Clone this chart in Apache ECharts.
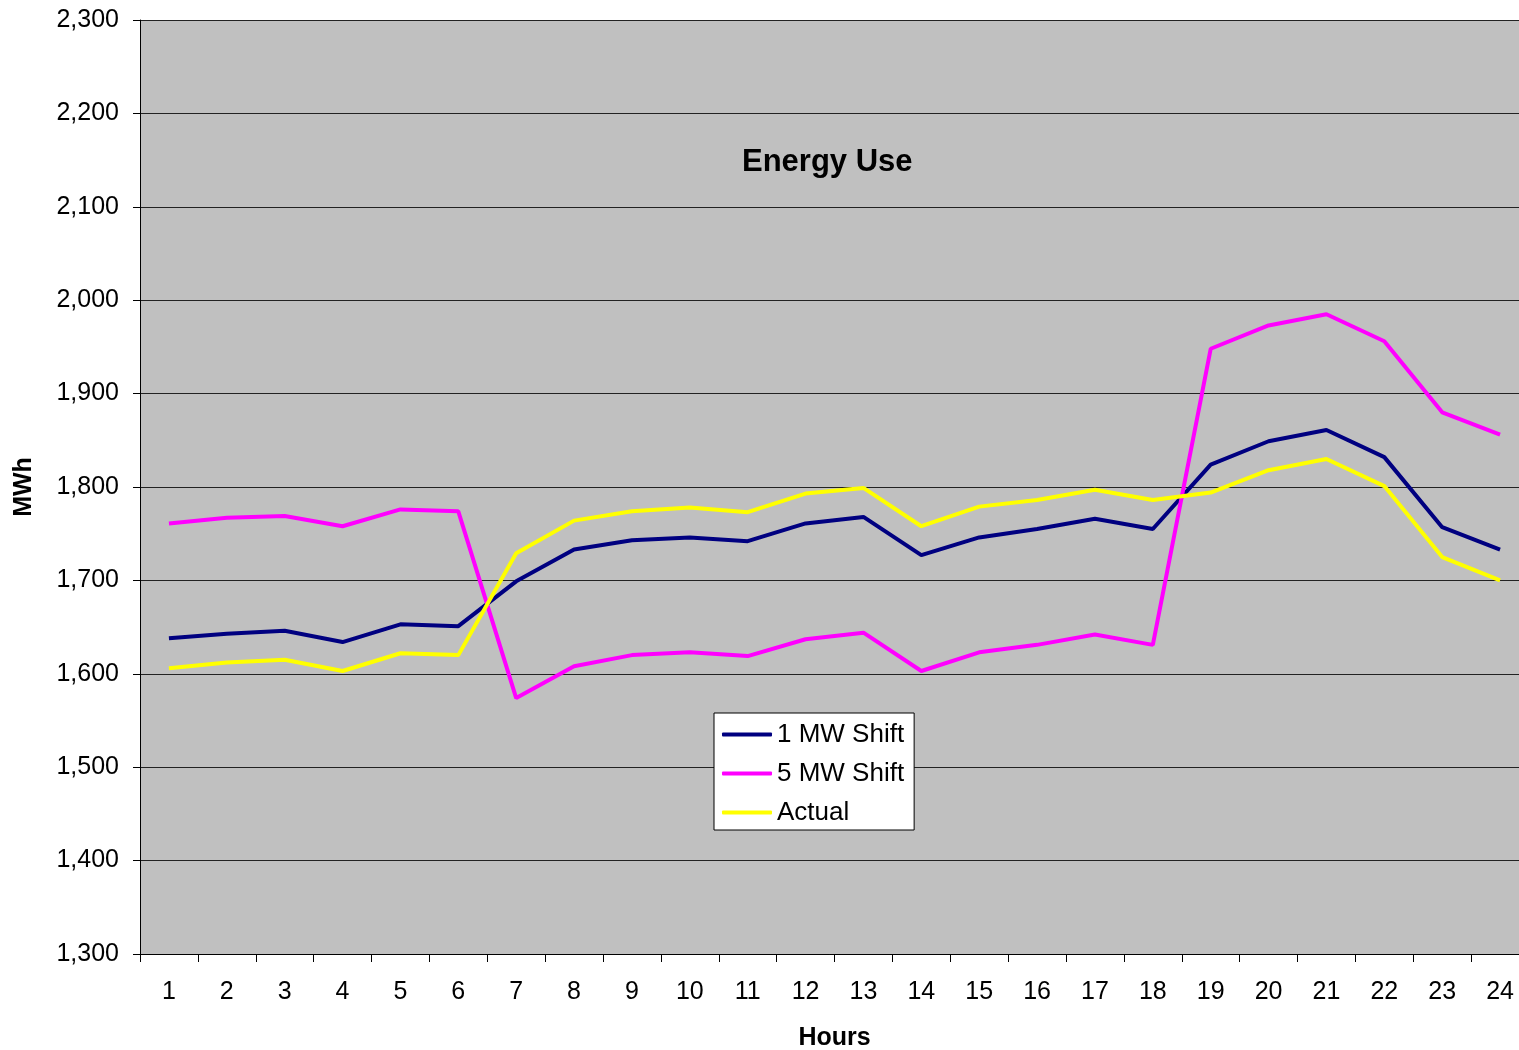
<!DOCTYPE html>
<html>
<head>
<meta charset="utf-8">
<script src="https://cdn.jsdelivr.net/npm/echarts@6/dist/echarts.min.js"></script>
<style>
html,body{margin:0;padding:0;background:#fff;overflow:hidden;}
#chart{width:1519px;height:1050px;}
</style>
</head>
<body>
<div id="chart"></div>
<script>
const hours = ['1','2','3','4','5','6','7','8','9','10','11','12','13','14','15','16','17','18','19','20','21','22','23','24'];
const shift1MW = [1638,1643,1646,1634,1653,1651,1699,1733,1743,1746,1742,1761,1768,1727,1746,1755,1766,1755,1824,1849,1861,1832,1757,1733];
const shift5MW = [1761,1767,1769,1758,1776,1774,1574,1608,1620,1623,1619,1637,1644,1603,1623,1631,1642,1631,1948,1973,1985,1956,1880,1856];
const actual = [1606,1612,1615,1603,1622,1620,1729,1764,1774,1778,1773,1793,1799,1758,1779,1786,1797,1786,1794,1818,1830,1801,1725,1700];

const chart = echarts.init(document.getElementById('chart'));
const font = 'Arial, "Liberation Sans", sans-serif';
chart.setOption({
  backgroundColor: '#ffffff',
  animation: false,
  textStyle: { fontFamily: font },
  title: {
    text: 'Energy Use',
    left: 737,
    top: 142,
    textStyle: { fontFamily: font, fontSize: 31, fontWeight: 'bold', color: '#000' }
  },
  legend: {
    orient: 'vertical',
    left: 714,
    top: 713,
    backgroundColor: '#ffffff',
    borderColor: '#000000',
    borderWidth: 1,
    borderRadius: 0,
    padding: [8, 10, 4, 8],
    icon: 'roundRect',
    itemWidth: 50,
    itemHeight: 4,
    itemGap: 12,
    textStyle: { fontFamily: font, fontSize: 26, color: '#000', lineHeight: 27 },
    data: ['1 MW Shift', '5 MW Shift', 'Actual']
  },
  grid: {
    left: 140,
    top: 20,
    width: 1389,
    height: 934,
    show: true,
    backgroundColor: '#c0c0c0',
    borderWidth: 0,
    outerBoundsMode: 'none',
    containLabel: false
  },
  xAxis: {
    type: 'category',
    data: hours,
    boundaryGap: true,
    name: 'Hours',
    nameLocation: 'middle',
    nameGap: 72,
    nameTextStyle: { fontFamily: font, fontSize: 25, fontWeight: 'bold', color: '#000' },
    axisLine: { lineStyle: { color: '#000', width: 1 } },
    axisTick: { show: true, length: 8, lineStyle: { color: '#000' } },
    axisLabel: { fontFamily: font, fontSize: 25, color: '#000', margin: 26, interval: 0 },
    splitLine: { show: false }
  },
  yAxis: {
    type: 'value',
    min: 1300,
    max: 2300,
    interval: 100,
    name: 'MWh',
    nameLocation: 'middle',
    nameGap: 103,
    nameRotate: 90,
    nameTextStyle: { fontFamily: font, fontSize: 25, fontWeight: 'bold', color: '#000' },
    axisLine: { show: true, lineStyle: { color: '#000', width: 1 } },
    axisTick: { show: true, length: 7, lineStyle: { color: '#000' } },
    axisLabel: {
      fontFamily: font, fontSize: 25, color: '#000', margin: 21,
      formatter: v => v.toLocaleString('en-US')
    },
    splitLine: { show: true, lineStyle: { color: '#222', width: 1 } }
  },
  series: [
    { name: '1 MW Shift', type: 'line', data: shift1MW, symbol: 'none', color: '#000080', lineStyle: { width: 4, color: '#000080' } },
    { name: '5 MW Shift', type: 'line', data: shift5MW, symbol: 'none', color: '#ff00ff', lineStyle: { width: 4, color: '#ff00ff' } },
    { name: 'Actual', type: 'line', data: actual, symbol: 'none', color: '#ffff00', lineStyle: { width: 4, color: '#ffff00' } }
  ]
});
</script>
</body>
</html>
